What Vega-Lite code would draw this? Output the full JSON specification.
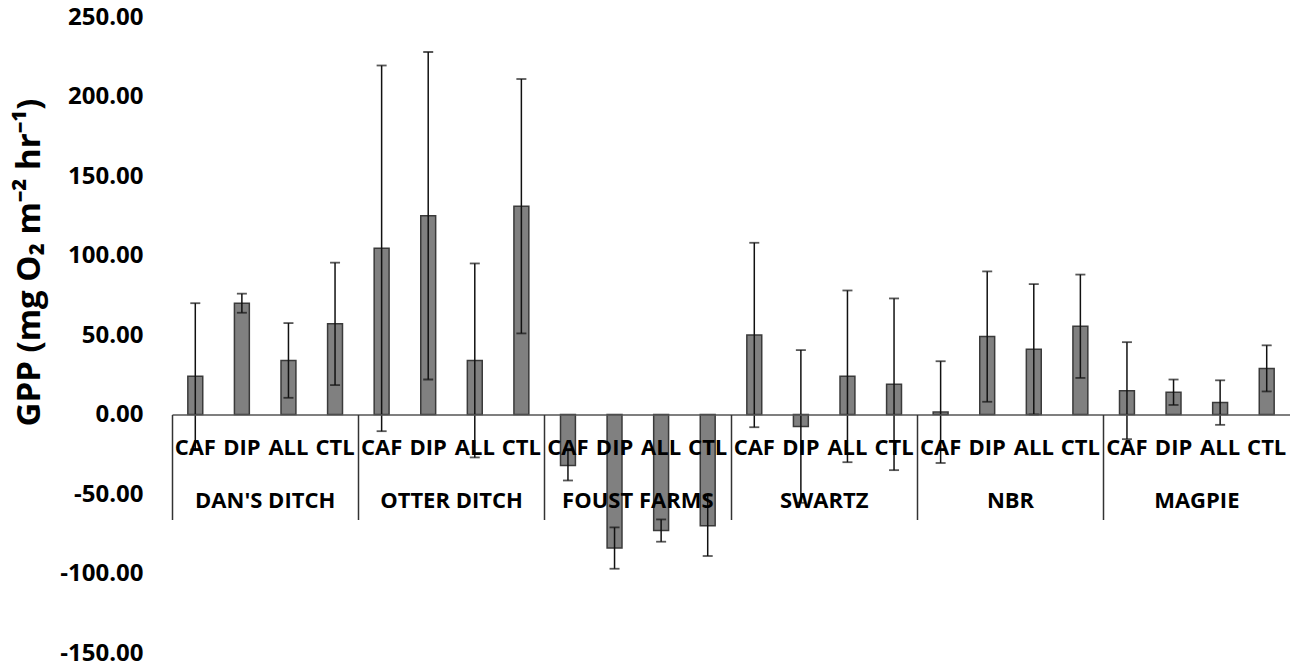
{
  "$schema": "https://vega.github.io/schema/vega-lite/v6.json",
  "width": 1118,
  "height": 636,
  "autosize": "none",
  "padding": {"left": 172, "top": 17, "right": 0, "bottom": 15},
  "background": "white",
  "config": {"view": {"stroke": null}, "font": "Open Sans"},
  "data": {"values": [
    {"cat": "DAN'S DITCH|CAF", "site": "DAN'S DITCH", "trt": "CAF", "gpp": 24, "lo": -22, "hi": 70},
    {"cat": "DAN'S DITCH|DIP", "site": "DAN'S DITCH", "trt": "DIP", "gpp": 70, "lo": 64, "hi": 76},
    {"cat": "DAN'S DITCH|ALL", "site": "DAN'S DITCH", "trt": "ALL", "gpp": 34, "lo": 10.5, "hi": 57.5},
    {"cat": "DAN'S DITCH|CTL", "site": "DAN'S DITCH", "trt": "CTL", "gpp": 57, "lo": 18.5, "hi": 95.5},
    {"cat": "OTTER DITCH|CAF", "site": "OTTER DITCH", "trt": "CAF", "gpp": 104.5, "lo": -10.5, "hi": 219.5},
    {"cat": "OTTER DITCH|DIP", "site": "OTTER DITCH", "trt": "DIP", "gpp": 125, "lo": 22, "hi": 228},
    {"cat": "OTTER DITCH|ALL", "site": "OTTER DITCH", "trt": "ALL", "gpp": 34, "lo": -27, "hi": 95},
    {"cat": "OTTER DITCH|CTL", "site": "OTTER DITCH", "trt": "CTL", "gpp": 131, "lo": 51, "hi": 211},
    {"cat": "FOUST FARMS|CAF", "site": "FOUST FARMS", "trt": "CAF", "gpp": -32, "lo": -41.5, "hi": -22.5},
    {"cat": "FOUST FARMS|DIP", "site": "FOUST FARMS", "trt": "DIP", "gpp": -84, "lo": -97, "hi": -71},
    {"cat": "FOUST FARMS|ALL", "site": "FOUST FARMS", "trt": "ALL", "gpp": -73, "lo": -80, "hi": -66},
    {"cat": "FOUST FARMS|CTL", "site": "FOUST FARMS", "trt": "CTL", "gpp": -70, "lo": -89, "hi": -51},
    {"cat": "SWARTZ|CAF", "site": "SWARTZ", "trt": "CAF", "gpp": 50, "lo": -8, "hi": 108},
    {"cat": "SWARTZ|DIP", "site": "SWARTZ", "trt": "DIP", "gpp": -7.5, "lo": -55.5, "hi": 40.5},
    {"cat": "SWARTZ|ALL", "site": "SWARTZ", "trt": "ALL", "gpp": 24, "lo": -30, "hi": 78},
    {"cat": "SWARTZ|CTL", "site": "SWARTZ", "trt": "CTL", "gpp": 19, "lo": -35, "hi": 73},
    {"cat": "NBR|CAF", "site": "NBR", "trt": "CAF", "gpp": 1.5, "lo": -30.5, "hi": 33.5},
    {"cat": "NBR|DIP", "site": "NBR", "trt": "DIP", "gpp": 49, "lo": 8, "hi": 90},
    {"cat": "NBR|ALL", "site": "NBR", "trt": "ALL", "gpp": 41, "lo": 0, "hi": 82},
    {"cat": "NBR|CTL", "site": "NBR", "trt": "CTL", "gpp": 55.5, "lo": 23, "hi": 88},
    {"cat": "MAGPIE|CAF", "site": "MAGPIE", "trt": "CAF", "gpp": 15, "lo": -15.5, "hi": 45.5},
    {"cat": "MAGPIE|DIP", "site": "MAGPIE", "trt": "DIP", "gpp": 14, "lo": 6, "hi": 22},
    {"cat": "MAGPIE|ALL", "site": "MAGPIE", "trt": "ALL", "gpp": 7.5, "lo": -6.5, "hi": 21.5},
    {"cat": "MAGPIE|CTL", "site": "MAGPIE", "trt": "CTL", "gpp": 29, "lo": 14.5, "hi": 43.5}
  ]},
  "resolve": {"axis": {"x": "independent", "y": "independent"}},
  "layer": [
    {
      "mark": {"type": "bar", "width": {"band": 0.32}, "fill": "#808080", "stroke": "#3a3a3a", "strokeWidth": 1.5},
      "encoding": {
        "x": {"field": "cat", "type": "nominal", "sort": null,
          "scale": {"paddingInner": 0, "paddingOuter": 0},
          "axis": {"orient": "bottom", "offset": -238.5, "title": null, "ticks": false, "tickSize": 0,
            "labelExpr": "split(datum.value, '|')[1]", "labelAngle": 0, "labelFont": "Open Sans",
            "labelFontSize": 22, "labelFontWeight": "bold", "labelColor": "#000000",
            "labelBaseline": "middle", "labelPadding": 33, "labelOverlap": false,
            "domain": true, "domainColor": "#555555", "domainWidth": 1.5, "zindex": 1}},
        "y": {"field": "gpp", "type": "quantitative",
          "scale": {"domain": [-150, 250], "nice": false, "zero": false},
          "axis": {"values": [-150, -100, -50, 0, 50, 100, 150, 200, 250],
            "labelExpr": "replace(format(datum.value, '.2f'), '\u2212', '-')",
            "grid": false, "domain": false, "ticks": false, "tickSize": 0,
            "labelFont": "Open Sans", "labelFontSize": 24, "labelFontWeight": "bold", "labelColor": "#000000",
            "labelPadding": 29,
            "title": "GPP (mg O₂ m⁻² hr⁻¹)", "titleFont": "Open Sans", "titleFontSize": 33,
            "titleFontWeight": "bold", "titleColor": "#000000", "titleAngle": 270,
            "titleX": -143, "titleY": 245, "titleAlign": "center", "titleBaseline": "middle"}}
      }
    },
    {
      "mark": {"type": "rule", "color": "#111111", "strokeWidth": 1.5},
      "encoding": {
        "x": {"field": "cat", "type": "nominal", "sort": null,
          "axis": {"orient": "bottom", "offset": -238.5, "title": null, "labels": false,
            "values": ["DAN'S DITCH|CAF", "OTTER DITCH|CAF", "FOUST FARMS|CAF", "SWARTZ|CAF", "NBR|CAF", "MAGPIE|CAF"],
            "bandPosition": 0, "ticks": true, "tickSize": 105, "tickColor": "#333333", "tickWidth": 1.5,
            "domain": false, "zindex": 1}},
        "y": {"field": "lo", "type": "quantitative", "axis": null},
        "y2": {"field": "hi"}
      }
    },
    {
      "mark": {"type": "tick", "color": "#111111", "size": 10, "thickness": 1.8},
      "encoding": {
        "x": {"field": "cat", "type": "nominal", "sort": null,
          "axis": {"orient": "bottom", "offset": -238.5, "title": null, "ticks": false, "tickSize": 0,
            "values": ["DAN'S DITCH|ALL", "OTTER DITCH|ALL", "FOUST FARMS|ALL", "SWARTZ|ALL", "NBR|ALL", "MAGPIE|ALL"],
            "labelExpr": "split(datum.value, '|')[0]", "labelAngle": 0, "labelOffset": -23.3,
            "labelFont": "Open Sans", "labelFontSize": 22, "labelFontWeight": "bold", "labelColor": "#000000",
            "labelBaseline": "middle", "labelPadding": 86, "labelOverlap": false,
            "domain": false, "zindex": 1}},
        "y": {"field": "lo", "type": "quantitative", "axis": null}
      }
    },
    {
      "mark": {"type": "tick", "color": "#111111", "size": 10, "thickness": 1.8},
      "encoding": {
        "x": {"field": "cat", "type": "nominal", "sort": null, "axis": null},
        "y": {"field": "hi", "type": "quantitative", "axis": null}
      }
    }
  ]
}
